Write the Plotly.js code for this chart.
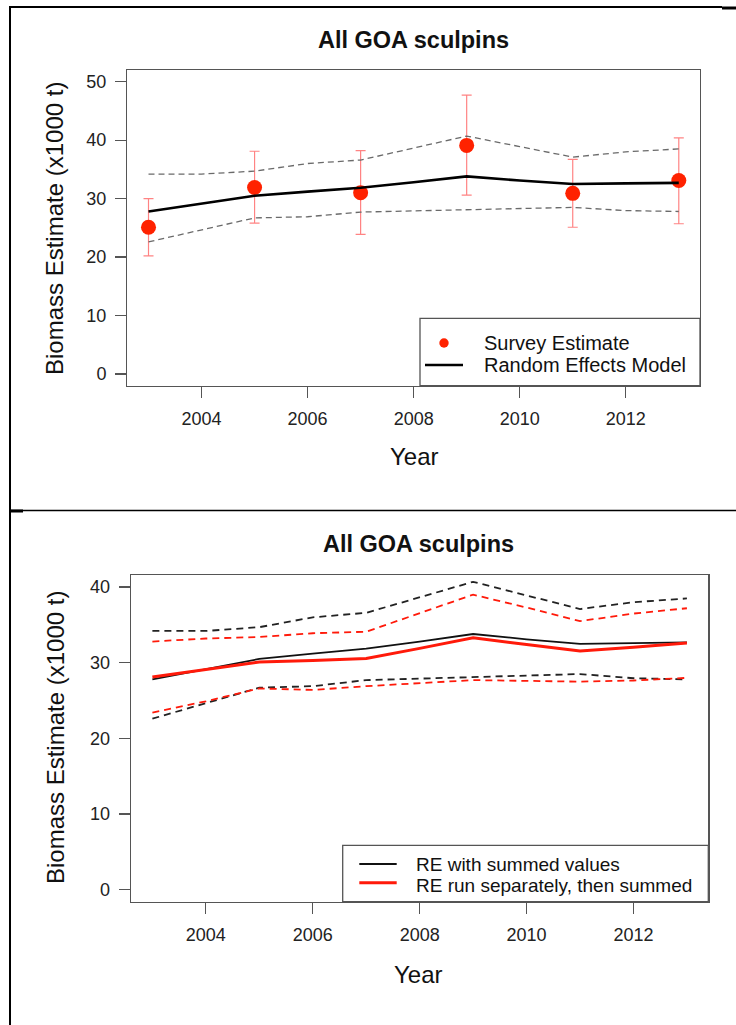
<!DOCTYPE html>
<html>
<head>
<meta charset="utf-8">
<script src="https://cdn.plot.ly/plotly-3.0.1.min.js"></script>
<style>
  html, body { margin: 0; padding: 0; background: #ffffff; }
  #chart { width: 736px; height: 1025px; }
</style>
</head>
<body>
<div id="chart"></div>
<script>
// ---------- DATA ----------
const titleText = "All GOA sculpins";
const xTitle = "Year";
const yTitle = "Biomass Estimate (x1000 t)";

// Survey estimates (odd years)
const surveyYears = [2003, 2005, 2007, 2009, 2011, 2013];
const surveyBiomass = [25.1, 31.9, 31.0, 39.1, 30.9, 33.1];
const surveyUpper = [30.0, 38.1, 38.2, 47.7, 36.7, 40.4];
const surveyLower = [20.2, 25.8, 23.9, 30.6, 25.1, 25.7];

// Random effects model (annual)
const reYears = [2003, 2004, 2005, 2006, 2007, 2008, 2009, 2010, 2011, 2012, 2013];
const reSummed = [27.8, 29.2, 30.5, 31.2, 31.85, 32.8, 33.8, 33.1, 32.5, 32.6, 32.7];
const reSummedUpper = [34.2, 34.2, 34.7, 36.0, 36.6, 38.7, 40.7, 38.9, 37.1, 38.0, 38.5];
const reSummedLower = [22.6, 24.7, 26.7, 26.9, 27.7, 27.9, 28.1, 28.3, 28.5, 27.95, 27.8];

const reSeparate = [28.1, 29.1, 30.1, 30.3, 30.55, 31.9, 33.3, 32.4, 31.55, 32.05, 32.6];
const reSeparateUpper = [32.8, 33.2, 33.4, 33.9, 34.1, 36.55, 39.0, 37.3, 35.5, 36.5, 37.2];
const reSeparateLower = [23.4, 24.9, 26.6, 26.4, 26.9, 27.35, 27.7, 27.6, 27.5, 27.65, 28.0];

const legendTop = ["Survey Estimate", "Random Effects Model"];
const legendBottom = ["RE with summed values", "RE run separately, then summed"];

const xTicks = [2004, 2006, 2008, 2010, 2012];
const yTicksTop = [0, 10, 20, 30, 40, 50];
const yTicksBottom = [0, 10, 20, 30, 40];

// ---------- LAYOUT HELPERS ----------
const W = 736, H = 1025;
const px = v => v / W;
const py = v => 1 - v / H;
const FONT = "Liberation Sans, Arial, Helvetica, sans-serif";
const RED = "#ff2200";
const LINE_RED = "#ff1a0a";
const BOXC = "#555555";

const errPlus = surveyUpper.map((u, i) => u - surveyBiomass[i]);
const errMinus = surveyLower.map((l, i) => surveyBiomass[i] - l);

const traces = [
  // ---- top panel ----
  {
    x: surveyYears, y: surveyBiomass, type: "scatter", mode: "markers",
    name: legendTop[0], xaxis: "x", yaxis: "y",
    marker: { color: RED, size: 15, line: { width: 0 } },
    error_y: { type: "data", symmetric: false, array: errPlus, arrayminus: errMinus,
               color: "rgba(255,90,90,0.75)", thickness: 1.2, width: 5 }
  },
  {
    x: reYears, y: reSummedUpper, type: "scatter", mode: "lines", xaxis: "x", yaxis: "y",
    line: { color: "#6a6a6a", width: 1.3, dash: "6px,4px" }, name: "upper"
  },
  {
    x: reYears, y: reSummedLower, type: "scatter", mode: "lines", xaxis: "x", yaxis: "y",
    line: { color: "#6a6a6a", width: 1.3, dash: "6px,4px" }, name: "lower"
  },
  {
    x: reYears, y: reSummed, type: "scatter", mode: "lines", xaxis: "x", yaxis: "y",
    line: { color: "#000000", width: 2.6 }, name: legendTop[1]
  },
  // ---- bottom panel ----
  {
    x: reYears, y: reSummedUpper, type: "scatter", mode: "lines", xaxis: "x2", yaxis: "y2",
    line: { color: "#222222", width: 1.8, dash: "7px,5px" }, name: "summed upper"
  },
  {
    x: reYears, y: reSummedLower, type: "scatter", mode: "lines", xaxis: "x2", yaxis: "y2",
    line: { color: "#222222", width: 1.8, dash: "7px,5px" }, name: "summed lower"
  },
  {
    x: reYears, y: reSummed, type: "scatter", mode: "lines", xaxis: "x2", yaxis: "y2",
    line: { color: "#111111", width: 1.8 }, name: legendBottom[0]
  },
  {
    x: reYears, y: reSeparateUpper, type: "scatter", mode: "lines", xaxis: "x2", yaxis: "y2",
    line: { color: LINE_RED, width: 1.8, dash: "7px,5px" }, name: "separate upper"
  },
  {
    x: reYears, y: reSeparateLower, type: "scatter", mode: "lines", xaxis: "x2", yaxis: "y2",
    line: { color: LINE_RED, width: 1.8, dash: "7px,5px" }, name: "separate lower"
  },
  {
    x: reYears, y: reSeparate, type: "scatter", mode: "lines", xaxis: "x2", yaxis: "y2",
    line: { color: LINE_RED, width: 3 }, name: legendBottom[1]
  }
];

function xAxis(domain) {
  return {
    domain: domain, range: [2002.6, 2013.4], tickmode: "array", tickvals: xTicks,
    ticktext: xTicks.map(String),
    showgrid: false, zeroline: false, showline: true, mirror: true,
    linecolor: BOXC, linewidth: 1.3, ticks: "outside", ticklen: 11, tickwidth: 1.2,
    tickcolor: BOXC, ticklabelstandoff: 5,
    tickfont: { family: FONT, size: 18, color: "#222222" }, fixedrange: true
  };
}
function yAxis(domain, range, ticks, anchor) {
  return {
    domain: domain, range: range, tickmode: "array", tickvals: ticks,
    ticktext: ticks.map(String), anchor: anchor,
    showgrid: false, zeroline: false, showline: true, mirror: true,
    linecolor: BOXC, linewidth: 1.3, ticks: "outside", ticklen: 11, tickwidth: 1.2,
    tickcolor: BOXC, ticklabelstandoff: 5,
    tickfont: { family: FONT, size: 18, color: "#222222" }, fixedrange: true
  };
}

const xa1 = xAxis([px(127.3), px(700)]); xa1.anchor = "y";
const xa2 = xAxis([px(131), px(708.3)]); xa2.anchor = "y2";

const ann = [];
const textFont = { family: FONT, size: 23.5, color: "#111111" };
function addText(text, x, y, opts) {
  ann.push(Object.assign({
    text: text, x: px(x), y: py(y), xref: "paper", yref: "paper",
    showarrow: false, xanchor: "center", yanchor: "middle", font: textFont
  }, opts || {}));
}
// titles
addText(titleText, 413, 40, { font: { family: FONT, size: 23.5, color: "#111", weight: "bold" } });
addText(titleText, 419, 544, { font: { family: FONT, size: 23.5, color: "#111", weight: "bold" } });
addText(xTitle, 414, 457, { font: { family: FONT, size: 24, color: "#111" } });
addText(xTitle, 419, 974, { font: { family: FONT, size: 24, color: "#111" } });
addText(yTitle, 55, 229, { textangle: -90, font: { family: FONT, size: 24, color: "#111" } });
addText(yTitle, 55, 738, { textangle: -90, font: { family: FONT, size: 24, color: "#111" } });
// legends text
const legFont = { family: FONT, size: 20, color: "#111" };
const legFont2 = { family: FONT, size: 19, color: "#111" };
addText(legendTop[0], 481.7, 343, { xanchor: "left", font: legFont });
addText(legendTop[1], 481.7, 365, { xanchor: "left", font: legFont });
addText(legendBottom[0], 414, 864, { xanchor: "left", font: legFont2 });
addText(legendBottom[1], 414, 885, { xanchor: "left", font: legFont2 });

const shapes = [
  // outer table borders
  { type: "line", xref: "paper", yref: "paper", x0: px(9), x1: px(722), y0: py(7), y1: py(7), line: { color: "#000", width: 2 } },
  { type: "line", xref: "paper", yref: "paper", x0: px(722), x1: px(736), y0: py(8), y1: py(8), line: { color: "#000", width: 3 } },
  { type: "line", xref: "paper", yref: "paper", x0: px(10), x1: px(10), y0: py(6), y1: py(1025), line: { color: "#000", width: 2 } },
  { type: "line", xref: "paper", yref: "paper", x0: px(10), x1: px(736), y0: py(510.5), y1: py(510.5), line: { color: "#000", width: 1.5 } },
  { type: "line", xref: "paper", yref: "paper", x0: px(10), x1: px(23), y0: py(511), y1: py(511), line: { color: "#000", width: 3 } },
  // top legend box
  { type: "rect", xref: "paper", yref: "paper", x0: px(420), x1: px(700), y0: py(385.7), y1: py(318.3),
    fillcolor: "#ffffff", line: { color: BOXC, width: 1.3 }, layer: "above" },
  { type: "circle", xref: "paper", yref: "paper", x0: px(439.3), x1: px(448.7), y0: py(338.3), y1: py(347.7),
    fillcolor: RED, line: { width: 0 }, layer: "above" },
  { type: "line", xref: "paper", yref: "paper", x0: px(425), x1: px(463), y0: py(365), y1: py(365),
    line: { color: "#000", width: 2.6 }, layer: "above" },
  // bottom legend box
  { type: "rect", xref: "paper", yref: "paper", x0: px(342.7), x1: px(708.3), y0: py(901.7), y1: py(845.3),
    fillcolor: "#ffffff", line: { color: BOXC, width: 1.3 }, layer: "above" },
  { type: "line", xref: "paper", yref: "paper", x0: px(359.3), x1: px(396.7), y0: py(864), y1: py(864),
    line: { color: "#111", width: 2 }, layer: "above" },
  { type: "line", xref: "paper", yref: "paper", x0: px(359.3), x1: px(396.7), y0: py(882.7), y1: py(882.7),
    line: { color: LINE_RED, width: 3 }, layer: "above" }
];

const layout = {
  width: W, height: H,
  margin: { l: 0, r: 0, t: 0, b: 0, pad: 0 },
  paper_bgcolor: "#ffffff", plot_bgcolor: "#ffffff",
  showlegend: false,
  xaxis: xa1,
  yaxis: yAxis([py(385.7), py(70)], [-2, 52], yTicksTop, "x"),
  xaxis2: xa2,
  yaxis2: yAxis([py(901.7), py(575)], [-1.6, 41.6], yTicksBottom, "x2"),
  annotations: ann,
  shapes: shapes,
  font: { family: FONT }
};

Plotly.newPlot("chart", traces, layout, { displayModeBar: false, staticPlot: true });
</script>
</body>
</html>
